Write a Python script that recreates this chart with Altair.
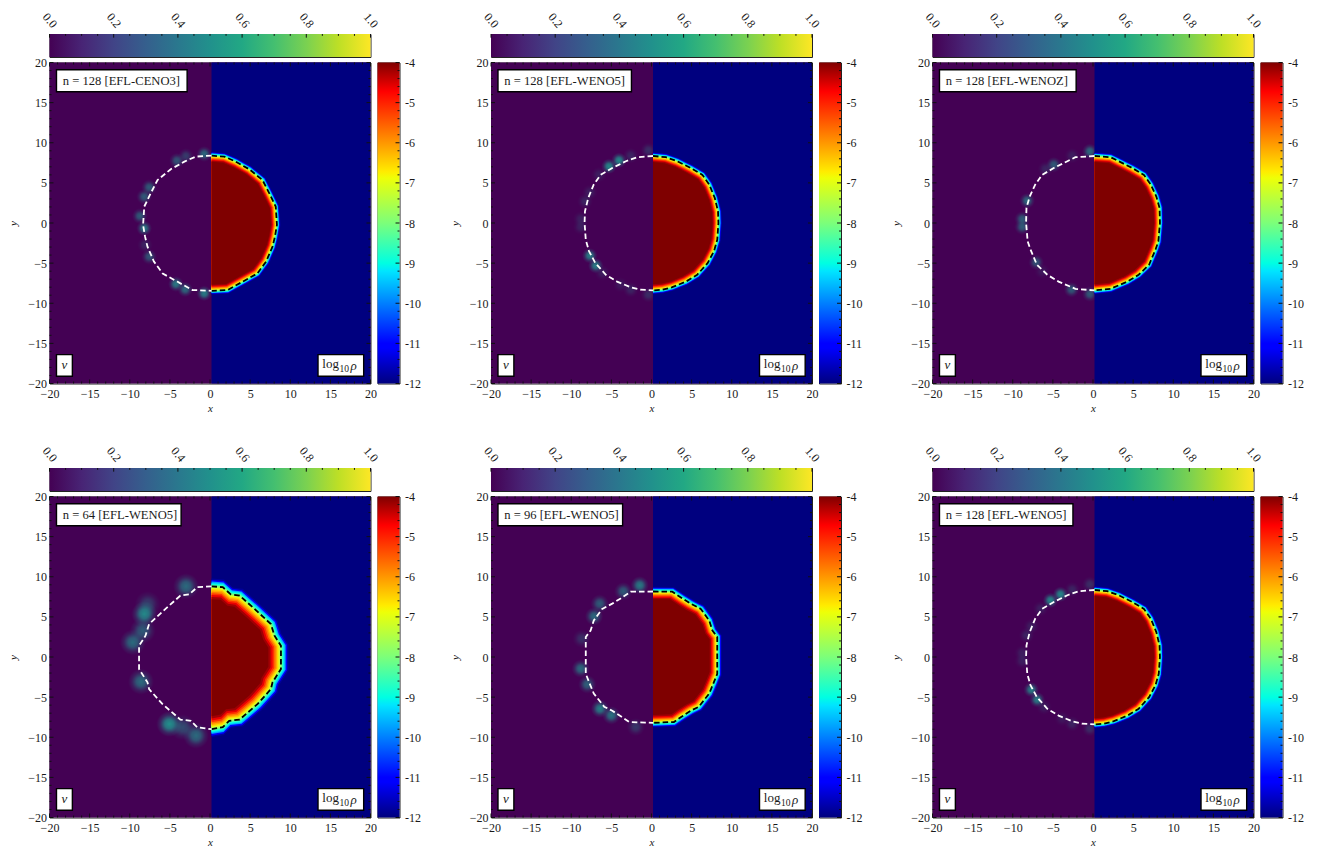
import altair as alt
import pandas as pd

FONT = "Liberation Serif"
INK = "#1a1a1a"
HALF = 0.19  # the two half-images meet just right of x = 0
LEFT_BG = "#440154"
RIGHT_BG = "#00007f"

MAIN_TICKS_MAJOR = [-20, -15, -10, -5, 0, 5, 10, 15, 20]
MAIN_TICKS_MINOR = [v for v in range(-20, 21) if v % 5 != 0]
NU_TICKS_MAJOR = [0.0, 0.2, 0.4, 0.6, 0.8, 1.0]
NU_TICKS_MINOR = [0.05, 0.1, 0.15, 0.25, 0.3, 0.35, 0.45, 0.5, 0.55, 0.65, 0.7, 0.75, 0.85, 0.9, 0.95]
RHO_TICKS_MAJOR = [-12, -11, -10, -9, -8, -7, -6, -5, -4]
RHO_TICKS_MINOR = [-12 + 0.2 * i for i in range(41) if i % 5 != 0]

JET_OFFSETS = [0, 0.11, 0.125, 0.35, 0.375, 0.5, 0.64, 0.66, 0.89, 0.91, 1]
JET_COLORS = ["#00007f", "#0000ff", "#0000ff", "#00e5ff", "#00ffe2", "#7cff7a", "#eeff07", "#ffec00", "#ff1300", "#ff0000", "#7f0000"]
VIR_OFFSETS = [0, 0.1, 0.2, 0.3, 0.4, 0.5, 0.6, 0.7, 0.8, 0.9, 1]
VIR_COLORS = ["#440154", "#482475", "#414487", "#355f8d", "#2a788e", "#21918c", "#22a884", "#44bf70", "#7ad151", "#bddf26", "#fde725"]

# jet level, distance from dashed contour at n = 128
BAND_LEVELS = [-11.8, -11, -10, -9.5, -9, -8.5, -8, -7.5, -7, -6.5, -6, -5.5, -5, -4.6, -4.2, -4]
BAND_OFFSETS = [0.46, 0.37, 0.28, 0.22, 0.17, 0.11, 0.05, -0.02, -0.08, -0.15, -0.23, -0.31, -0.4, -0.5, -0.62, -0.75]

C1_X = [0, 1.6, 3, 4.7, 6.35, 7.2, 8, 8.15, 7.9, 7.6, 6.8, 5.7, 3.9, 2, 0]
C1_Y = [8.4, 8.27, 7.65, 6.7, 5.35, 3.7, 2.05, -0.25, -1.7, -2.95, -4.8, -6.3, -7.3, -8.35, -8.45]
C2_X = [0, 1.6, 3, 4.7, 6.15, 7, 7.7, 8.1, 8.15, 8, 7.6, 6.8, 5.5, 4.1, 2.4, 1.2, 0]
C2_Y = [8.35, 8.2, 7.7, 6.85, 6, 4.8, 3.1, 1.45, 0, -2.1, -3.5, -5, -6.45, -7.3, -8, -8.3, -8.4]
C3_X = [0, 2, 3, 4.7, 6.15, 7, 7.7, 8.1, 8.15, 7.95, 7.6, 6.8, 5.5, 4.1, 2, 0]
C3_Y = [8.35, 8.2, 7.7, 6.85, 6, 4.8, 3.3, 1.9, 0, -2.3, -3.3, -5.2, -6.45, -7.3, -8.2, -8.4]
C4_X = [0, 1.4, 2.4, 3.5, 5.35, 7.4, 7.85, 8.65, 8.65, 7.6, 7.4, 5.75, 3.5, 2.2, 1.4, 0]
C4_Y = [8.8, 8.7, 7.8, 7.65, 6, 4.1, 2.65, 1.4, -1.5, -3.15, -4, -5.85, -7.8, -7.95, -8.75, -9]
C5_X = [0, 2.4, 3.65, 4.7, 5.95, 7, 7.4, 8, 8, 7.6, 7, 5.7, 4.7, 3.45, 2.6, 0]
C5_Y = [8.16, 8.14, 7.3, 6.65, 6, 4.55, 3.3, 2.5, -2.1, -3.1, -4.55, -6.2, -6.7, -7.5, -8.1, -8.2]

B1_X = [-4.13, -3.0, -0.72, -7.58, -8.2, -8.74, -8.2, -8.1, -7.58, -4.25, -3.09, -0.72]
B1_Y = [7.77, 8.35, 8.6, 4.45, 3.28, 0.87, -0.66, -2.74, -4.2, -7.6, -8.27, -8.77]
B1_V = [0.28, 0.2, 0.35, 0.3, 0.3, 0.3, 0.4, 0.12, 0.28, 0.4, 0.35, 0.42]
B2_X = [-0.39, -2.59, -4.05, -5.3, -6.54, -7.7, -8.28, -8.82, -8.82, -7.7, -6.95, -6.1, -3.84, -2.59, -0.39]
B2_Y = [9.06, 8.39, 7.81, 7.06, 6.02, 3.82, 2.7, 0.5, -0.5, -4.07, -5.32, -6.23, -7.69, -8.31, -8.93]
B2_V = [0.15, 0.12, 0.45, 0.45, 0.1, 0.1, 0.12, 0.1, 0.1, 0.42, 0.42, 0.1, 0.08, 0.12, 0.15]
B3_X = [-0.39, -2.59, -4.88, -5.92, -8.2, -8.82, -8.82, -7.08, -6.33, -2.68, -0.39]
B3_Y = [8.93, 8.39, 7.27, 6.73, 2.78, 0.5, -0.5, -4.9, -6.02, -8.31, -8.85]
B3_V = [0.35, 0.1, 0.3, 0.12, 0.35, 0.3, 0.3, 0.28, 0.08, 0.3, 0.3]
B4_X = [-2.99, -8.18, -7.77, -8.39, -9.63, -8.6, -5.07, -3.4, -1.74]
B4_Y = [8.81, 5.36, 6.6, 3.28, 1.83, -3.07, -8.35, -8.77, -9.8]
B4_V = [0.35, 0.45, 0.2, 0.3, 0.35, 0.35, 0.48, 0.25, 0.35]
B5_X = [-1.47, -3.51, -6.46, -7.16, -8.7, -8.82, -8, -6.42, -5, -1.97]
B5_Y = [8.93, 8.18, 6.65, 5.07, 2.28, -1.45, -3.41, -6.44, -7.27, -8.72]
B5_V = [0.4, 0.3, 0.3, 0.35, 0.15, 0.35, 0.32, 0.42, 0.38, 0.18]

PANELS = [
    ("n = 128 [EFL-CENO3]", -2.85, C1_X, C1_Y, B1_X, B1_Y, B1_V, 1.0, 75),
    ("n = 128 [EFL-WENO5]", -2.5, C2_X, C2_Y, B2_X, B2_Y, B2_V, 1.0, 75),
    ("n = 128 [EFL-WENOZ]", -2.1, C3_X, C3_Y, B3_X, B3_Y, B3_V, 1.0, 75),
    ("n = 64 [EFL-WENO5]", -3.6, C4_X, C4_Y, B4_X, B4_Y, B4_V, 2.0, 210),
    ("n = 96 [EFL-WENO5]", -3.6, C5_X, C5_Y, B5_X, B5_Y, B5_V, 1.3, 105),
    ("n = 128 [EFL-WENO5]", -2.5, C2_X, C2_Y, B2_X, B2_Y, B2_V, 1.0, 75),
]

sx = alt.Scale(domain=[-20, 20], nice=False, zero=False)
sy = alt.Scale(domain=[-20, 20], nice=False, zero=False)
MINUS = "replace(datum.label, '-', '\u2212')"
HYPHEN = "replace(datum.label, '\u2212', '-')"
BLOB_FILL = {
    "gradient": "radial",
    "stops": [
        {"offset": 0, "color": "rgba(33,145,140,1)"},
        {"offset": 0.35, "color": "rgba(33,145,140,0.8)"},
        {"offset": 0.7, "color": "rgba(33,145,140,0.25)"},
        {"offset": 1, "color": "rgba(33,145,140,0)"},
    ],
}
jet_scale = alt.Scale(domain=[-12 + 8 * o for o in JET_OFFSETS], range=JET_COLORS)

AX_X = alt.Axis(values=MAIN_TICKS_MAJOR, tickSize=0, domain=False, grid=False, labelExpr=MINUS,
                labelPadding=5, title="x", titlePadding=3, labelOverlap=False, labelFlush=False)
AX_Y = alt.Axis(values=MAIN_TICKS_MAJOR, tickSize=0, domain=False, grid=False, labelExpr=MINUS,
                labelPadding=3, title="y", titleX=-36, titleBaseline="middle", labelOverlap=False, labelFlush=False)


def X(f):
    return alt.X(f, type="quantitative", scale=sx, axis=AX_X, title="x")


def Y(f):
    return alt.Y(f, type="quantitative", scale=sy, axis=AX_Y, title="y")


def tick_rows(major, minor, lo, hi, mj, mn):
    """Inward ticks on both edges, for an axis along x."""
    rows = []
    for vals, ln in ((major, mj), (minor, mn)):
        for v in vals:
            rows.append(dict(a=v, a2=v, b=lo, b2=lo + ln))
            rows.append(dict(a=v, a2=v, b=hi, b2=hi - ln))
    return rows


def main_panel(title, box_right, cx, cy, bx, by, bv, band_k, blob_size):
    xs = [x + HALF for x in cx]
    contour = pd.DataFrame({"x": xs, "y": cy, "i": range(len(cx))})
    contour["wx"] = [-x if i not in (0, len(xs) - 1) else HALF for i, x in enumerate(xs)]

    bands = []
    for lev, off in zip(BAND_LEVELS, BAND_OFFSETS):
        f = 1 + off * band_k / 8.3
        for x, y in zip(xs, cy):
            bands.append(dict(level=lev, x=HALF + (x - HALF) * f, y=y * f, base=HALF))
    bands = pd.DataFrame(bands)

    blobs = pd.DataFrame({"x": bx, "y": by, "op": [min(1, v * 2.1) for v in bv]})
    blobs["size"] = blob_size * 3.14

    bg = pd.DataFrame({"x": [-20], "x2": [20], "y": [-20], "y2": [20]})
    bgr = pd.DataFrame({"x": [HALF], "x2": [20], "y": [-20], "y2": [20]})

    l_bg = alt.Chart(bg).mark_rect(color=LEFT_BG).encode(x=X("x"), x2="x2:Q", y=Y("y"), y2="y2:Q")
    l_blob = alt.Chart(blobs).mark_circle(fill=BLOB_FILL, strokeWidth=0).encode(
        x=X("x"), y=Y("y"),
        size=alt.Size("size:Q", scale=None, legend=None),
        opacity=alt.Opacity("op:Q", scale=None, legend=None))
    r_bg = alt.Chart(bgr).mark_rect(color=RIGHT_BG).encode(x=X("x"), x2="x2:Q", y=Y("y"), y2="y2:Q")
    l_band = alt.Chart(bands).mark_area(orient="horizontal", interpolate="linear").encode(
        x=X("x"), x2="base:Q", y=Y("y"),
        detail=alt.Detail("level:N"),
        color=alt.Color("level:Q", scale=jet_scale, legend=None))
    l_black = alt.Chart(contour).mark_line(color="black", strokeWidth=1.8, strokeDash=[5.5, 3]).encode(
        x=X("x"), y=Y("y"), order="i:Q")
    l_white = alt.Chart(contour).mark_line(color="white", strokeWidth=1.8, strokeDash=[5.5, 3]).encode(
        x=X("wx"), y=Y("y"), order="i:Q")

    rows = [dict(x=r["a"], x2=r["a2"], y=r["b"], y2=r["b2"]) for r in tick_rows(MAIN_TICKS_MAJOR, MAIN_TICKS_MINOR, -20, 20, 0.5, 0.25)]
    rows += [dict(x=r["b"], x2=r["b2"], y=r["a"], y2=r["a2"]) for r in tick_rows(MAIN_TICKS_MAJOR, MAIN_TICKS_MINOR, -20, 20, 0.5, 0.25)]
    l_ticks = alt.Chart(pd.DataFrame(rows)).mark_rule(color="#111111", strokeWidth=1).encode(
        x=X("x"), x2="x2:Q", y=Y("y"), y2="y2:Q")

    boxes = pd.DataFrame({"x": [-19.13, -19.13, 13.46], "x2": [box_right, -17.15, 19.15],
                          "y": [19.1, -16.4, -16.4], "y2": [16.36, -19.1, -19.1]})
    l_box = alt.Chart(boxes).mark_rect(fill="white", stroke="black", strokeWidth=1.4).encode(
        x=X("x"), x2="x2:Q", y=Y("y"), y2="y2:Q")

    def txt(x, y, s, size, style="normal", align="left"):
        return alt.Chart(pd.DataFrame({"x": [x], "y": [y], "s": [s]})).mark_text(
            font=FONT, fontSize=size, fontStyle=style, align=align, baseline="middle", color=INK
        ).encode(x=X("x"), y=Y("y"), text="s:N")

    l_t1 = txt(-18.35, 17.73, title, 12.6)
    l_t2 = txt(-18.13, -17.7, "\u03bd", 13, "italic", "center")
    l_t3 = txt(14.0, -17.6, "log", 13)
    l_t4 = txt(16.15, -18.2, "10", 9.5)
    l_t5 = txt(17.5, -17.8, "\u03c1", 13, "italic")
    return alt.layer(l_bg, l_blob, r_bg, l_band, l_black, l_white, l_ticks, l_box,
                     l_t1, l_t2, l_t3, l_t4, l_t5).properties(width=321, height=321)


def top_bar():
    data = pd.DataFrame({"x": [0.0], "x2": [1.0], "y": [0.0], "y2": [1.0]})
    grad = {"gradient": "linear", "x1": 0, "y1": 0, "x2": 1, "y2": 0,
            "stops": [{"offset": o, "color": c} for o, c in zip(VIR_OFFSETS, VIR_COLORS)]}
    scx = alt.Scale(domain=[0, 1], nice=False, zero=False)
    scy = alt.Scale(domain=[0, 1], nice=False, zero=False)
    ax = alt.Axis(orient="top", values=NU_TICKS_MAJOR, format=".1f", tickSize=0, domain=False, grid=False,
                  labelAngle=50, labelAlign="center", labelBaseline="middle", labelPadding=14,
                  labelOverlap=False, labelFlush=False, title=None, minExtent=25, maxExtent=25)
    rect = alt.Chart(data).mark_rect(fill=grad).encode(
        x=alt.X("x:Q", scale=scx, axis=ax, title=None), x2="x2:Q",
        y=alt.Y("y:Q", scale=scy, axis=None, title=None), y2="y2:Q")
    rows = [dict(x=v, y=1.0, y2=1 - ln) for vals, ln in ((NU_TICKS_MAJOR, 0.16), (NU_TICKS_MINOR, 0.08)) for v in vals]
    ticks = alt.Chart(pd.DataFrame(rows)).mark_rule(color="#111111", strokeWidth=1).encode(
        x=alt.X("x:Q", scale=scx, axis=ax, title=None),
        y=alt.Y("y:Q", scale=scy, axis=None, title=None), y2="y2:Q")
    return alt.layer(rect, ticks).properties(width=321, height=23)


def right_bar():
    data = pd.DataFrame({"x": [0.0], "x2": [1.0], "y": [-12.0], "y2": [-4.0]})
    grad = {"gradient": "linear", "x1": 0, "y1": 1, "x2": 0, "y2": 0,
            "stops": [{"offset": o, "color": c} for o, c in zip(JET_OFFSETS, JET_COLORS)]}
    scx = alt.Scale(domain=[0, 1], nice=False, zero=False)
    scy = alt.Scale(domain=[-12, -4], nice=False, zero=False)
    ay = alt.Axis(orient="right", values=RHO_TICKS_MAJOR, tickSize=0, domain=False, grid=False, format="d",
                  labelPadding=5, labelOverlap=False, labelFlush=False, title=None, labelExpr=HYPHEN)
    rect = alt.Chart(data).mark_rect(fill=grad).encode(
        x=alt.X("x:Q", scale=scx, axis=None, title=None), x2="x2:Q",
        y=alt.Y("y:Q", scale=scy, axis=ay, title=None), y2="y2:Q")
    rows = [dict(y=v, x=1.0, x2=1 - ln) for vals, ln in ((RHO_TICKS_MAJOR, 0.18), (RHO_TICKS_MINOR, 0.09)) for v in vals]
    ticks = alt.Chart(pd.DataFrame(rows)).mark_rule(color="#111111", strokeWidth=1).encode(
        y=alt.Y("y:Q", scale=scy, axis=ay, title=None),
        x=alt.X("x:Q", scale=scx, axis=None, title=None), x2="x2:Q")
    return alt.layer(rect, ticks).properties(width=22, height=321)


def panel(p):
    return alt.vconcat(top_bar(), alt.hconcat(main_panel(*p), right_bar(), spacing=-2), spacing=-2.5)


row1 = alt.hconcat(*[panel(p) for p in PANELS[:3]], spacing=26.5)
row2 = alt.hconcat(*[panel(p) for p in PANELS[3:]], spacing=26.5)
chart = alt.vconcat(row1, row2, spacing=28).properties(
    padding={"left": -1.5, "top": 0, "right": 0, "bottom": 0}
).configure_view(stroke="#222222", strokeWidth=1).configure_axis(
    labelFont=FONT, labelFontSize=12, labelColor=INK,
    titleFont=FONT, titleFontSize=11, titleFontStyle="italic", titleFontWeight="normal", titleColor=INK,
)
chart.save("out.html", embed_options={"renderer": "svg", "actions": False})
